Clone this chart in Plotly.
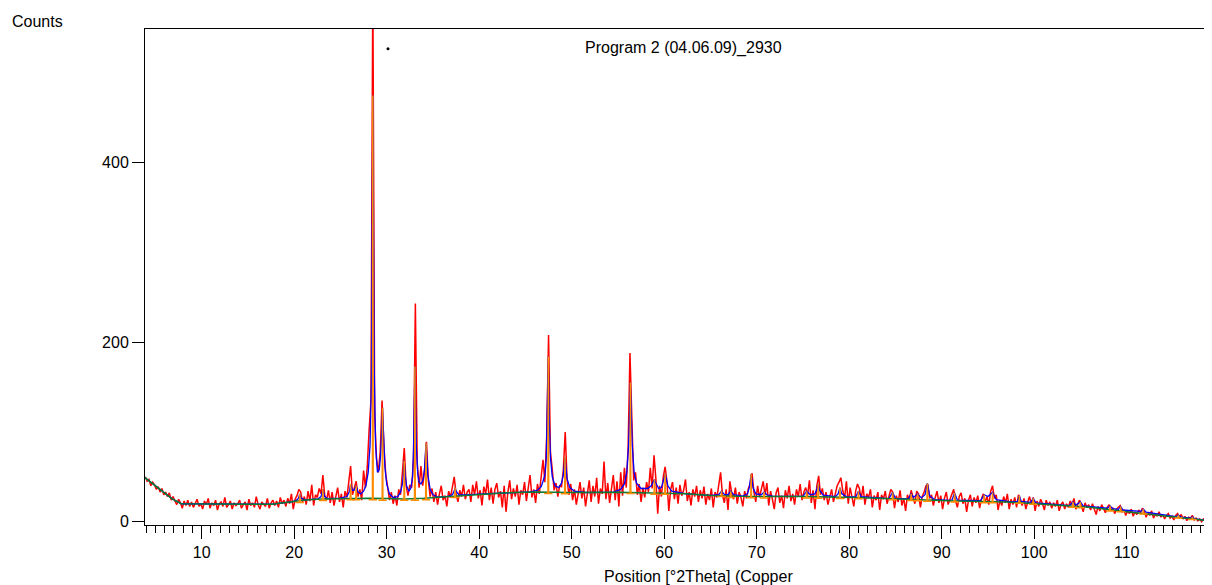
import plotly.graph_objects as go

# ---------------- data ----------------
# observed counts (red), regular 0.2 deg grid starting at 3.9 deg
red_start = 3.9
red_step = 0.2
red_counts = [
    50, 45, 47, 40, 44, 41, 36, 39, 33, 37, 30, 33, 28, 32, 24, 28, 23, 19, 25, 21, 15, 23, 18, 24, 17,
    22, 16, 21, 25, 17, 20, 14, 23, 19, 26, 15, 21, 18, 24, 13, 20, 22, 17, 27, 16, 19, 23, 14, 21, 18,
    20, 24, 15, 19, 22, 13, 25, 18, 21, 16, 28, 19, 14, 22, 20, 17, 26, 15, 21, 24, 18, 23, 16, 27, 20,
    24, 17, 26, 20, 31, 14, 25, 29, 36, 33, 22, 28, 19, 34, 23, 41, 18, 30, 27, 37, 31, 52, 29, 24, 35,
    21, 33, 18, 29, 38, 22, 31, 16, 34, 27, 44, 62, 30, 39, 45, 28, 36, 24, 57, 38, 61, 102, 135, 600, 118,
    70, 55, 78, 135, 84, 52, 39, 24, 33, 20, 29, 18, 36, 30, 55, 82, 40, 29, 41, 38, 70, 243, 66, 38, 62,
    40, 58, 89, 46, 28, 37, 22, 33, 19, 31, 40, 24, 29, 17, 34, 27, 38, 50, 31, 22, 35, 28, 41, 25, 33,
    36, 22, 41, 30, 45, 26, 35, 18, 39, 31, 47, 24, 38, 20, 36, 43, 27, 34, 16, 40, 11, 33, 46, 25, 37,
    28, 41, 19, 35, 30, 44, 23, 38, 52, 27, 36, 21, 42, 31, 48, 69, 44, 96, 208, 78, 58, 35, 43, 28, 40,
    39, 58, 100, 47, 30, 42, 24, 36, 19, 31, 44, 26, 38, 17, 35, 46, 22, 40, 28, 49, 20, 37, 31, 67, 25,
    43, 21, 38, 52, 24, 45, 17, 55, 29, 60, 38, 82, 188, 104, 46, 55, 30, 42, 22, 38, 27, 44, 33, 60, 37,
    74, 48, 9, 40, 28, 50, 61, 45, 12, 36, 44, 25, 38, 20, 41, 29, 35, 47, 23, 33, 18, 36, 28, 40, 22,
    35, 26, 39, 19, 31, 24, 37, 16, 33, 27, 42, 55, 30, 21, 36, 13, 45, 32, 25, 38, 20, 33, 27, 17, 34,
    26, 37, 42, 54, 33, 22, 40, 27, 36, 45, 30, 43, 18, 34, 25, 14, 32, 38, 21, 29, 15, 35, 26, 40, 23,
    31, 19, 36, 28, 42, 24, 33, 38, 29, 46, 21, 35, 14, 40, 51, 30, 37, 24, 33, 19, 29, 36, 22, 30, 40,
    44, 49, 35, 26, 45, 20, 38, 29, 17, 34, 42, 37, 25, 40, 19, 31, 27, 36, 16, 29, 24, 33, 13, 30, 25,
    34, 20, 28, 36, 33, 15, 29, 22, 35, 18, 26, 12, 30, 24, 35, 27, 20, 34, 31, 16, 28, 33, 40, 42, 26,
    30, 18, 27, 34, 21, 29, 14, 26, 33, 19, 25, 30, 36, 23, 16, 28, 32, 20, 26, 11, 24, 30, 17, 27, 21,
    29, 15, 25, 31, 22, 28, 19, 34, 40, 26, 30, 13, 24, 18, 28, 21, 31, 14, 25, 19, 27, 16, 30, 24, 18,
    26, 14, 22, 28, 19, 27, 12, 23, 17, 25, 20, 13, 24, 18, 22, 15, 21, 17, 24, 12, 19, 22, 14, 20, 16,
    23, 19, 26, 14, 20, 24, 18, 11, 21, 16, 19, 13, 20, 15, 8, 17, 12, 19, 14, 10, 16, 19, 13, 15, 9,
    14, 16, 18, 11, 13, 7, 12, 9, 14, 6, 11, 8, 13, 10, 15, 12, 5, 10, 7, 12, 4, 9, 6, 11, 5,
    8, 3, 7, 9, 4, 6, 2, 7, 9, 5, 8, 3, 6, 1, 5, 4, 7, 2, 4, 1, 3, 0, 3, 1, 2,
    0, 1,
]

# background (green)
bg_x = [3.87, 4.5, 5.3, 6.0, 6.8, 7.8, 9.0, 12.0, 15.0, 17.6, 19.7, 21.2, 23.0, 25.5, 28.0,
        30.0, 32.0, 34.0, 36.0, 38.0, 40.5, 43.0, 46.0, 50.0, 55.0, 60.0, 62.4, 65.0, 68.0,
        72.0, 75.0, 80.6, 86.0, 91.5, 97.0, 100.6, 106.0, 110.7, 115.0, 119.2]
bg_y = [49, 44, 37, 31.5, 25.5, 20, 19.8, 19.6, 19.4, 19.5, 22, 24.2, 25.2, 26, 26.2,
        25.8, 25.3, 26, 27.3, 29.2, 31, 32.3, 33, 32.5, 32.8, 32, 31, 29.3, 28.2,
        28, 28, 27, 24.8, 23, 22, 19.6, 16, 10.3, 5.5, 0.5]

# calculated profile (blue), (position, counts)
blue_profile = [
    (3.87, 49), (4.5, 44), (5.3, 37), (6.0, 31.5), (6.8, 25.5), (7.8, 20), (12.0, 19.6), (17.6, 19.5),
    (19.7, 22), (20.2, 23.5), (20.45, 26), (20.6, 31), (20.75, 26), (21.0, 24.5), (21.2, 24.2),
    (22.6, 25.5), (22.9, 28), (23.1, 36), (23.3, 28), (23.6, 25.8), (25.0, 26.2), (25.7, 28),
    (25.95, 33), (26.1, 42), (26.3, 35), (26.45, 35), (26.7, 40), (26.9, 33), (27.2, 31), (27.5, 34),
    (27.75, 40), (28.0, 55), (28.2, 85), (28.35, 160), (28.45, 380), (28.5, 475), (28.55, 380),
    (28.65, 170), (28.8, 85), (29.0, 55), (29.2, 58), (29.35, 75), (29.45, 100), (29.55, 127),
    (29.65, 100), (29.8, 62), (30.0, 42), (30.3, 31), (30.7, 27), (31.2, 28), (31.5, 33), (31.7, 42),
    (31.8, 52), (31.9, 68), (32.0, 52), (32.15, 40), (32.4, 34), (32.6, 37), (32.8, 50), (32.9, 80),
    (33.0, 140), (33.05, 173), (33.1, 140), (33.2, 85), (33.35, 55), (33.5, 44), (33.7, 42),
    (33.95, 47), (34.1, 60), (34.2, 80), (34.25, 88), (34.3, 80), (34.45, 52), (34.7, 36), (35.0, 30),
    (35.5, 27.5), (36.5, 28), (37.1, 30), (37.3, 34), (37.4, 38), (37.5, 34), (37.8, 30), (38.5, 29.8),
    (40.5, 31), (43.0, 32.3), (45.5, 33.2), (46.3, 35), (46.7, 39), (46.9, 45), (47.1, 52),
    (47.25, 70), (47.38, 120), (47.47, 184), (47.56, 120), (47.7, 72), (47.9, 50), (48.2, 40),
    (48.6, 38), (48.9, 43), (49.1, 52), (49.2, 62), (49.28, 72), (49.36, 62), (49.5, 48), (49.8, 38),
    (50.3, 34), (51.5, 32.5), (54.5, 33), (55.3, 36), (55.7, 42), (55.95, 55), (56.15, 85),
    (56.27, 125), (56.35, 155), (56.43, 125), (56.55, 85), (56.75, 55), (57.0, 43), (57.5, 37),
    (58.2, 37), (58.6, 40), (58.8, 44), (58.95, 47), (59.1, 43), (59.4, 37), (59.7, 38), (59.9, 44),
    (60.0, 49), (60.1, 54), (60.2, 49), (60.4, 40), (60.8, 34), (61.5, 32.5), (62.4, 31), (65.0, 29.3),
    (65.9, 30), (66.2, 34), (66.5, 30.5), (66.9, 30), (67.2, 34), (67.5, 30), (68.5, 28.5), (69.0, 31),
    (69.2, 38), (69.4, 53), (69.6, 38), (69.9, 31), (70.5, 30), (70.8, 33), (71.1, 30), (71.8, 28.2),
    (75.0, 28.2), (75.4, 34), (75.8, 30), (76.3, 31), (76.5, 36), (76.65, 42), (76.8, 35), (77.2, 29.5),
    (78.5, 28), (78.8, 31), (79.0, 38), (79.2, 31), (79.7, 28), (80.7, 27.5), (81.0, 34), (81.3, 28),
    (84.3, 25.8), (84.7, 32.6), (85.0, 26), (86.4, 25.5), (86.7, 31), (86.95, 27), (87.4, 31),
    (87.8, 26.5), (88.2, 30), (88.45, 42.6), (88.7, 29), (89.2, 24.6), (91.1, 23.8), (91.4, 32),
    (91.7, 24), (94.2, 23.5), (94.6, 30), (95.0, 28), (95.5, 32.6), (95.9, 24.5), (97.5, 22),
    (98.2, 22.5), (98.4, 29), (98.6, 22.5), (99.6, 21.5), (99.9, 26), (100.2, 20.8), (103.8, 18),
    (104.2, 22), (104.5, 18.5), (105.0, 22), (105.3, 17.5), (107.9, 15), (108.2, 17.5), (108.5, 14.5),
    (109.1, 13.8), (109.35, 17), (109.6, 13), (111.5, 11.5), (111.8, 14), (112.1, 10.5), (115.3, 5.6),
    (115.6, 7.5), (115.9, 5), (116.9, 4), (117.1, 5.5), (117.3, 3.5), (119.2, 0.5),
]

# peak sticks (orange): position, top, base
stick_pos = [20.6, 23.1, 26.1, 26.7, 28.5, 29.55, 31.9, 33.05, 34.25, 37.4, 47.47, 49.28, 56.35,
             58.95, 60.1, 66.2, 67.2, 69.4, 70.8, 75.4, 76.65, 79.0, 81.0, 84.7, 86.7, 87.4, 88.45,
             91.4, 94.6, 95.5, 98.4, 99.9, 104.2, 105.0, 108.2, 109.35, 111.8, 115.6, 117.1]
stick_top = [31, 36, 42, 40, 475, 127, 68, 173, 88, 38, 184, 72, 155,
             47, 54, 34, 34, 53, 33, 34, 42, 38, 34, 32.6, 31, 31, 42.6,
             32, 30, 32.6, 29, 26, 22, 22, 17.5, 17, 14, 7.5, 5.5]
stick_base = [21.5, 23.7, 24.5, 24.5, 24.5, 24, 23.8, 24, 24.5, 27, 31.5, 31, 31.3,
              30.5, 30.5, 28, 27, 26.7, 26.5, 26.5, 26, 25.8, 25.5, 24.3, 23.5, 23.2, 22.7,
              21.8, 21.2, 21, 20.5, 19.3, 16, 15.5, 12, 11, 8.5, 4, 2.5]

marker_dot = (30.14, 527)

# ---------------- figure ----------------
red_x = [round(red_start + i * red_step, 3) for i in range(len(red_counts))]
blue_x = [p[0] for p in blue_profile]
blue_y = [p[1] for p in blue_profile]

orange_x, orange_y = [], []
for p, t, b in zip(stick_pos, stick_top, stick_base):
    orange_x += [p - 0.45, p - 0.04, p, p + 0.04, p + 0.45, None]
    orange_y += [b, b, t, b, b, None]

FONT = "Liberation Sans, Arial, sans-serif"

fig = go.Figure()
fig.add_trace(go.Scatter(x=red_x, y=red_counts, mode="lines",
                         line=dict(color="#ff0000", width=1.5), showlegend=False, hoverinfo="skip"))
fig.add_trace(go.Scatter(x=blue_x, y=blue_y, mode="lines",
                         line=dict(color="#0000ff", width=1.3), showlegend=False, hoverinfo="skip"))
fig.add_trace(go.Scatter(x=bg_x, y=bg_y, mode="lines",
                         line=dict(color="#0a7a30", width=1.5), showlegend=False, hoverinfo="skip"))
fig.add_trace(go.Scatter(x=orange_x, y=orange_y, mode="lines",
                         line=dict(color="#ff8c00", width=1.5), showlegend=False, hoverinfo="skip"))
fig.add_trace(go.Scatter(x=[marker_dot[0]], y=[marker_dot[1]], mode="markers",
                         marker=dict(color="black", size=3), showlegend=False, hoverinfo="skip"))

fig.update_layout(
    width=1196, height=577,
    margin=dict(l=137, r=0, t=21, b=60),
    paper_bgcolor="white", plot_bgcolor="white",
    font=dict(family=FONT, size=16, color="black"),
    xaxis=dict(range=[3.87, 118.36], tick0=0, dtick=10, ticks="outside", ticklen=13,
               tickcolor="black", showline=True, linecolor="black", linewidth=1, mirror=True,
               showgrid=False, zeroline=False,
               minor=dict(dtick=1, ticks="outside", ticklen=7, tickcolor="black", showgrid=False),
               tickfont=dict(family=FONT, size=16)),
    yaxis=dict(range=[-3.7, 549], tickvals=[0, 200, 400], ticks="outside", ticklen=12,
               tickcolor="black", showline=True, linecolor="black", linewidth=1,
               showgrid=False, zeroline=False, tickfont=dict(family=FONT, size=16)),
    annotations=[
        dict(text="Counts", xref="paper", yref="paper", x=-0.1275, y=1.0161,
             xanchor="left", yanchor="middle", showarrow=False, font=dict(family=FONT, size=16)),
        dict(text="Program 2 (04.06.09)_2930", xref="paper", yref="paper", x=0.4136, y=0.9617,
             xanchor="left", yanchor="middle", showarrow=False, font=dict(family=FONT, size=16)),
        dict(text="Position [°2Theta] (Copper", xref="paper", yref="paper", x=0.5222, y=-0.1048,
             xanchor="center", yanchor="middle", showarrow=False, font=dict(family=FONT, size=16)),
    ],
)

fig.write_html("out.html")
